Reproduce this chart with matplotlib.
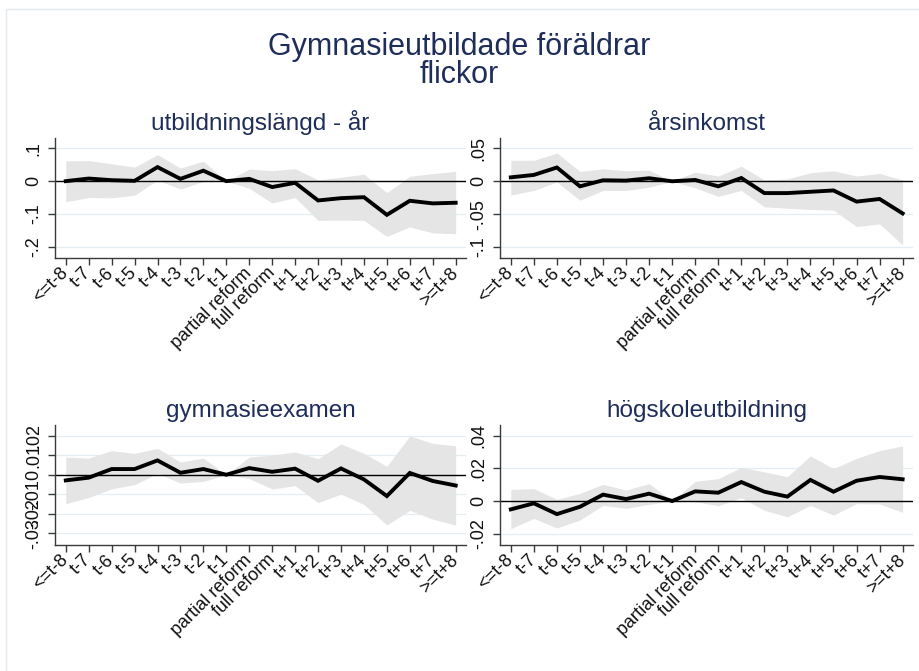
import matplotlib
matplotlib.use("Agg")
import matplotlib.pyplot as plt
from matplotlib.patches import Rectangle

plt.rcParams["font.family"] = ["Liberation Sans", "DejaVu Sans"]

categories = ["<=t-8", "t-7", "t-6", "t-5", "t-4", "t-3", "t-2", "t-1",
              "partial reform", "full reform", "t+1", "t+2", "t+3", "t+4",
              "t+5", "t+6", "t+7", ">=t+8"]

main_title = "Gymnasieutbildade föräldrar\nflickor"

# utbildningslängd - år
edu_coef = [0.0, 0.008, 0.003, 0.001, 0.043, 0.007, 0.032, 0.0, 0.007, -0.018,
            -0.005, -0.059, -0.052, -0.049, -0.103, -0.060, -0.068, -0.066]
edu_hi = [0.062, 0.063, 0.053, 0.043, 0.081, 0.040, 0.061, 0.0, 0.037, 0.032,
          0.038, 0.004, 0.012, 0.021, -0.035, 0.015, 0.023, 0.030]
edu_lo = [-0.063, -0.050, -0.051, -0.043, 0.003, -0.024, -0.001, 0.0, -0.022, -0.067,
          -0.050, -0.120, -0.119, -0.120, -0.169, -0.140, -0.158, -0.161]

# årsinkomst
inc_coef = [0.006, 0.0097, 0.021, -0.0077, 0.0015, 0.001, 0.0046, 0.0, 0.002, -0.0077,
            0.005, -0.018, -0.018, -0.016, -0.014, -0.031, -0.027, -0.049]
inc_hi = [0.032, 0.032, 0.043, 0.015, 0.019, 0.016, 0.017, 0.0, 0.014, 0.008,
          0.023, 0.002, 0.0036, 0.013, 0.016, 0.008, 0.012, 0.002]
inc_lo = [-0.021, -0.014, -0.001, -0.029, -0.014, -0.014, -0.009, 0.0, -0.010, -0.023,
          -0.014, -0.039, -0.041, -0.043, -0.044, -0.069, -0.065, -0.097]

# gymnasieexamen
gym_coef = [-0.0029, -0.0015, 0.0029, 0.0029, 0.0073, 0.001, 0.0029, 0.0, 0.0034, 0.0015,
            0.0031, -0.0031, 0.0032, -0.0024, -0.0109, 0.0009, -0.0032, -0.0055]
gym_hi = [0.009, 0.0085, 0.0123, 0.0109, 0.0135, 0.0065, 0.0085, 0.0, 0.009, 0.010,
          0.0116, 0.0082, 0.0157, 0.0109, 0.0043, 0.0198, 0.016, 0.0148]
gym_lo = [-0.0148, -0.0116, -0.0072, -0.0051, 0.0007, -0.0043, -0.0034, 0.0, -0.002, -0.0073,
          -0.0056, -0.0143, -0.0099, -0.0152, -0.0257, -0.0182, -0.0227, -0.0257]

# högskoleutbildning
uni_coef = [-0.0051, -0.0014, -0.008, -0.0035, 0.0039, 0.0012, 0.0045, 0.0, 0.0059, 0.0051,
            0.0116, 0.0057, 0.0027, 0.0129, 0.0057, 0.0124, 0.0147, 0.0133]
uni_hi = [0.0071, 0.0076, 0.001, 0.0047, 0.0102, 0.0067, 0.0106, 0.0, 0.012, 0.0137,
          0.0206, 0.0178, 0.0149, 0.0276, 0.0198, 0.0261, 0.0308, 0.0337]
uni_lo = [-0.0169, -0.0106, -0.0165, -0.0116, -0.0027, -0.0045, -0.002, 0.0, -0.0004, -0.0029,
          0.002, -0.0057, -0.0096, -0.0027, -0.0086, -0.0016, -0.0018, -0.0069]

panels = [
    ("utbildningslängd - år", edu_coef, edu_lo, edu_hi, [-0.2, -0.1, 0, 0.1], (-0.235, 0.132)),
    ("årsinkomst", inc_coef, inc_lo, inc_hi, [-0.1, -0.05, 0, 0.05], (-0.117, 0.066)),
    ("gymnasieexamen", gym_coef, gym_lo, gym_hi, [-0.03, -0.02, -0.01, 0, 0.01, 0.02], (-0.0359, 0.0254)),
    ("högskoleutbildning", uni_coef, uni_lo, uni_hi, [-0.02, 0, 0.02, 0.04], (-0.0269, 0.0465)),
]

W, H = 919, 671
navy = "#1e2d5a"
# axes boxes in pixels: left, top, right, bottom
boxes = [(55, 138, 466, 258), (500, 138, 913, 258),
         (55, 425, 466, 545), (500, 425, 913, 545)]


def stata_label(v):
    if v == 0:
        return "0"
    s = f"{v:g}"
    return s.replace("0.", ".")


fig = plt.figure(figsize=(W / 100, H / 100), dpi=100)
fig.patch.set_facecolor("white")
fig.patches.append(Rectangle((6 / W, -0.1), 1.2, 1 - 9 / H + 0.1, transform=fig.transFigure,
                             fill=False, edgecolor="#e3eaee", lw=1.0))

fig.text(0.5, 1 - 61 / H, main_title, ha="center", va="center", fontsize=22,
         color=navy, linespacing=0.95)

x = list(range(len(categories)))
for (title, coef, lo, hi, yt, ylim), (l, t, r, b) in zip(panels, boxes):
    ax = fig.add_axes([l / W, 1 - b / H, (r - l) / W, (b - t) / H])
    ax.set_facecolor("white")
    for v in yt:
        if v != 0:
            ax.axhline(v, color="#e4edf1", lw=0.9, zorder=0)
    ax.fill_between(x, lo, hi, color="#e5e5e5", lw=0, zorder=1)
    ax.axhline(0, color="black", lw=1.0, zorder=2)
    ax.plot(x, coef, color="black", lw=2.8, zorder=3, solid_joinstyle="miter")
    ax.set_xlim(-0.47, 17.45)
    ax.set_ylim(*ylim)
    ax.set_xticks(x)
    ax.set_xticklabels(categories, rotation=45, ha="right", va="center",
                       rotation_mode="anchor", fontsize=13)
    ax.set_yticks(yt)
    ax.set_yticklabels([stata_label(v) for v in yt], rotation=90, va="center",
                       fontsize=13)
    for s in ["top", "right"]:
        ax.spines[s].set_visible(False)
    for s in ["left", "bottom"]:
        ax.spines[s].set_color("#3a3a3a")
        ax.spines[s].set_linewidth(1.0)
    ax.tick_params(axis="both", direction="out", length=5, width=1.0, color="#3a3a3a",
                   labelcolor="#111111")
    ax.tick_params(axis="x", pad=4)
    ax.tick_params(axis="y", pad=4)
    ax.set_title(title, fontsize=17.5, color=navy, pad=5.5)

fig.savefig("out.png", dpi=100, facecolor="white")
